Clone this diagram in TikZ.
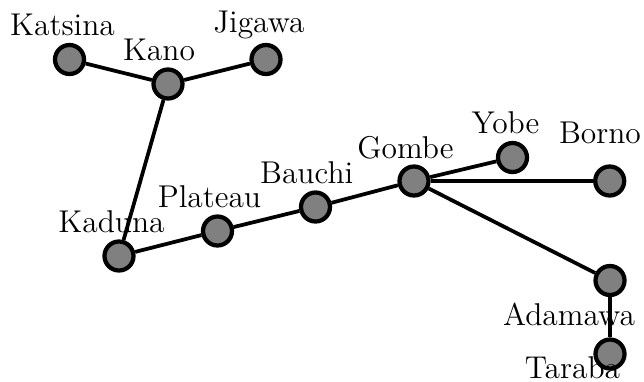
\documentclass[tikz,border=0pt]{standalone}
\usepackage{tikz}
\begin{document}
\begin{tikzpicture}[x=0.4pt,y=-0.4pt,
  state/.style={circle,draw=black,fill=gray,line width=1.7pt,inner sep=0pt,minimum size=11.6pt},
  statename/.style={anchor=base,inner sep=0pt,font=\fontsize{12.6}{15}\selectfont},
  road/.style={line width=1.5pt,draw=black}]
\useasboundingbox (0,0) rectangle (644,381);

% states
\node[state] (katsina) at (69.5,59.5) {};
\node[state] (kano)    at (168,84) {};
\node[state] (jigawa)  at (266,59.5) {};
\node[state] (kaduna)  at (119,256) {};
\node[state] (plateau) at (217.5,231) {};
\node[state] (bauchi)  at (315.5,207) {};
\node[state] (gombe)   at (414,181) {};
\node[state] (yobe)    at (512.5,157.5) {};
\node[state] (borno)   at (609.7,181) {};
\node[state] (adamawa) at (610,280.5) {};
\node[state] (taraba)  at (610,354) {};

% names
\node[statename] (lkatsina) at (62.5,35)    {Katsina};
\node[statename] (lkano)    at (159,60)     {Kano};
\node[statename] (ljigawa)  at (259,32.5)   {Jigawa};
\node[statename] (lkaduna)  at (111.5,232.7){Kaduna};
\node[statename] (lplateau) at (209.5,207)  {Plateau};
\node[statename] (lbauchi)  at (306.7,183.3){Bauchi};
\node[statename] (lgombe)   at (405.5,158)  {Gombe};
\node[statename] (lyobe)    at (505.5,133.3){Yobe};
\node[statename] (lborno)   at (600,143.3)  {Borno};
\node[statename] (ladamawa) at (569,325)    {Adamawa};
\node[statename] (ltaraba)  at (572.5,378)  {Taraba};

% roads
\draw[road] (katsina) -- (kano);
\draw[road] (kano) -- (jigawa);
\draw[road] (kano) -- (kaduna);
\draw[road] (kaduna) -- (plateau);
\draw[road] (plateau) -- (bauchi);
\draw[road] (bauchi) -- (gombe);
\draw[road] (gombe) -- (yobe);
\draw[road] (gombe) -- (borno);
\draw[road] (gombe) -- (adamawa);
\draw[road] (adamawa) -- (taraba);
\end{tikzpicture}
\end{document}
